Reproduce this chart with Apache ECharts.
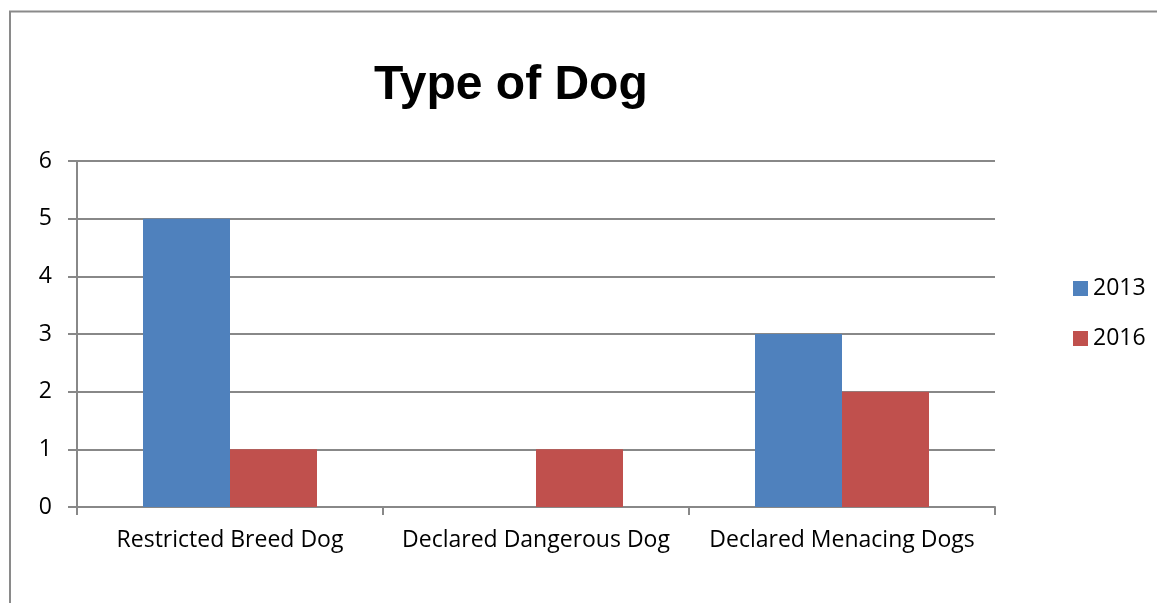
<!DOCTYPE html>
<html>
<head>
<meta charset="utf-8">
<script src="https://cdn.jsdelivr.net/npm/echarts@6/dist/echarts.min.js"></script>
<style>
  html, body { margin: 0; padding: 0; background: #fff; }
  #chart { width: 1157px; height: 603px; }
</style>
</head>
<body>
<div id="chart"></div>
<script>
var categories = ['Restricted Breed Dog', 'Declared Dangerous Dog', 'Declared Menacing Dogs']
var values2013 = [5, 0, 3]
var values2016 = [1, 1, 2]
var yTicks = { min: 0, max: 6, interval: 1 }

var labelFont = '"Open Sans", "Noto Sans", sans-serif'
var gridColor = '#888888'

var chart = echarts.init(document.getElementById('chart'))
chart.setOption({
  backgroundColor: '#fff',
  animation: false,
  graphic: [{
    type: 'rect',
    shape: { x: 10, y: 11.5, width: 1400, height: 800 },
    style: { fill: 'none', stroke: '#8a8a8a', lineWidth: 2 }
  }],
  title: {
    text: 'Type of Dog',
    left: 369,
    top: 57,
    textStyle: {
      fontFamily: '"Liberation Sans", Arial, sans-serif',
      fontWeight: 'bold',
      fontSize: 48,
      color: '#000'
    }
  },
  legend: {
    orient: 'vertical',
    left: 1068,
    top: 272,
    itemWidth: 15,
    itemHeight: 15,
    itemGap: 27,
    itemTextGap: 7,
    icon: 'rect',
    data: ['2013', '2016'],
    textStyle: { fontFamily: labelFont, fontSize: 23, color: '#000', lineHeight: 15 }
  },
  grid: { left: 77, right: 162, top: 161, bottom: 96 },
  xAxis: {
    type: 'category',
    data: categories,
    boundaryGap: true,
    axisLine: { lineStyle: { color: gridColor, width: 2 } },
    axisTick: { show: true, interval: 0, length: 8, lineStyle: { color: gridColor, width: 2 } },
    axisLabel: { interval: 0, margin: 22, fontFamily: labelFont, fontSize: 23, color: '#000' }
  },
  yAxis: {
    type: 'value',
    min: yTicks.min,
    max: yTicks.max,
    interval: yTicks.interval,
    axisLine: { show: true, lineStyle: { color: gridColor, width: 2 } },
    axisTick: { show: true, length: 9, lineStyle: { color: gridColor, width: 2 } },
    axisLabel: { margin: 25, fontFamily: labelFont, fontSize: 23, color: '#000' },
    splitLine: { lineStyle: { color: gridColor, width: 2 } }
  },
  series: [{
    name: '2013',
    type: 'bar',
    data: values2013,
    barWidth: 87,
    barGap: '0%',
    itemStyle: { color: '#4F81BD' }
  }, {
    name: '2016',
    type: 'bar',
    data: values2016,
    barWidth: 87,
    barGap: '0%',
    itemStyle: { color: '#C0504D' }
  }]
})
</script>
</body>
</html>
